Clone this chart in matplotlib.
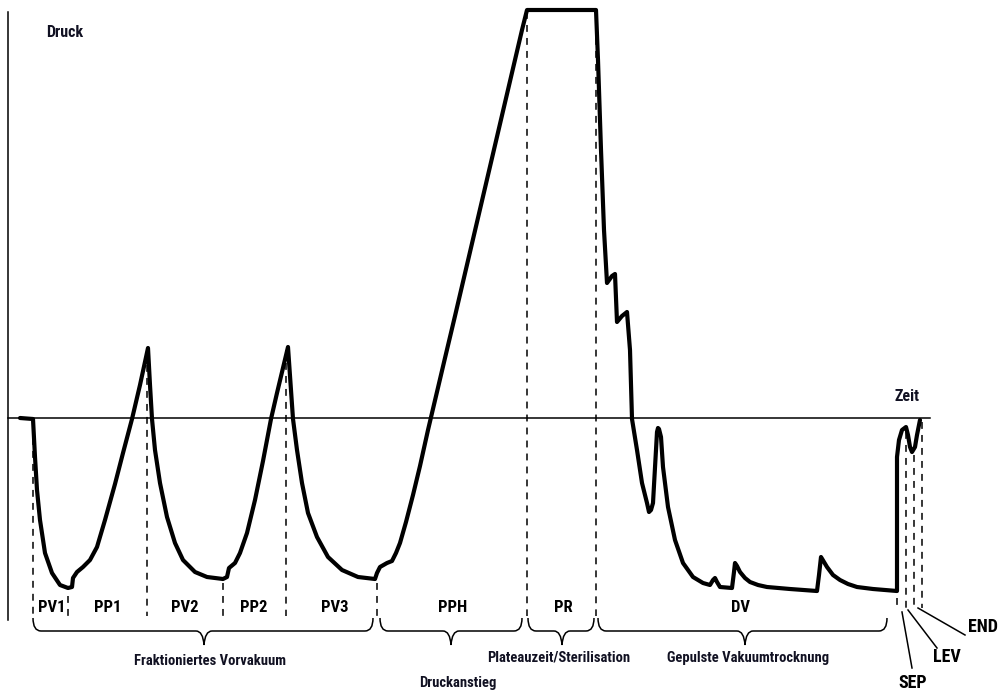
import matplotlib
matplotlib.use("Agg")
import matplotlib.pyplot as plt
from matplotlib.path import Path
from matplotlib.patches import PathPatch

FONTS = ['Roboto Condensed', 'Liberation Sans Narrow', 'Roboto', 'DejaVu Sans']
plt.rcParams['font.family'] = FONTS

# pressure curve (time, pressure), pressure 0 = time axis
t = [20, 33, 35, 37, 40, 45, 52, 60, 68, 72, 73, 77, 83, 90, 97, 105, 115, 123, 132, 140, 148,
     150, 152, 155, 160, 167, 175, 183, 195, 207, 223, 227, 229, 235, 240, 247, 255, 263, 271,
     277, 282, 288,
     291, 293, 297, 302, 308, 317, 328, 342, 358, 375, 377, 380, 387, 392, 396, 400, 406, 413,
     420, 428, 436, 445, 455, 466, 478, 490, 503, 512, 517, 522, 527,
     596, 598, 601, 604, 607, 612, 615, 617, 622, 627, 630, 632, 637, 642, 647, 649, 651, 653,
     655, 657, 658, 659, 661, 663, 668, 675, 683, 693, 703, 710, 713, 715, 717, 720, 732, 734,
     735, 737, 740, 745, 750, 758, 767, 790, 817, 819, 821, 824, 827, 833, 840, 848, 857, 873,
     897, 897, 899, 902, 906, 908, 910, 912, 915, 917, 920]
p = [0, -1, -39, -72, -102, -135, -155, -167, -170, -169, -160, -154, -149, -142, -129, -102,
     -66, -35, -1, 33, 70,
     33, -1, -32, -65, -99, -125, -142, -154, -159, -161, -159, -150, -145, -135, -115, -82, -43,
     -1, 25, 46, 71,
     28, -1, -32, -65, -95, -119, -139, -152, -159, -161, -155, -149, -145, -143, -135, -125,
     -104, -77, -48, -12, 22, 60, 102, 149, 200, 252, 307, 346, 367, 388, 408,
     408, 358, 268, 188, 135, 142, 144, 96, 102, 106, 68, -1, -32, -65, -85, -94, -92, -85,
     -49, -14, -10, -11, -19, -49, -89, -122, -145, -159, -165, -167, -162, -160, -164, -169,
     -170, -154, -145, -148, -154, -160, -164, -167, -169, -171, -173, -157, -139, -144, -149,
     -157, -162, -166, -169, -171, -173,
     -39, -22, -12, -9, -17, -29, -34, -29, -17, -2]

# phase boundaries (time, top of dashed line)
bound_t = [33, 68, 147, 223, 286, 377, 527, 596]
bound_top = [-7, -178, 66, -165, 68, -165, 406, 406]
small_t = [897, 906, 914, 922]
small_top = [-180, -14, -37, -4]

phases = ["PV1", "PP1", "PV2", "PP2", "PV3", "PPH", "PR", "DV"]
phase_x = [52, 108, 185, 254, 335, 453, 563, 740]

groups = ["Fraktioniertes Vorvakuum", "Druckanstieg", "Plateauzeit/Sterilisation",
          "Gepulste Vakuumtrocknung"]
group_span = [(33, 373), (380, 522), (528, 594), (598, 887)]
group_tip = [204, 451, 562, 745]
group_label = [(210, -243), (458, -265), (559, -239), (748, -240)]

ends = ["SEP", "LEV", "END"]
end_line = [((902, -194), (912, -250)), ((908, -192), (937, -230)), ((918, -190), (965, -217))]
end_label = [(913, -265), (947, -239), (983, -209)]


def brace(ax, x0, x1, xm, ytop=-200, ybar=-213, ytip=-227, r=8):
    verts = [(x0, ytop), (x0, ybar), (x0 + r, ybar),
             (xm - r, ybar), (xm - 1, ybar), (xm, ytip),
             (xm + 1, ybar), (xm + r, ybar),
             (x1 - r, ybar), (x1, ybar), (x1, ytop)]
    codes = [Path.MOVETO, Path.CURVE3, Path.CURVE3,
             Path.LINETO, Path.CURVE3, Path.CURVE3,
             Path.CURVE3, Path.CURVE3,
             Path.LINETO, Path.CURVE3, Path.CURVE3]
    ax.add_patch(PathPatch(Path(verts, codes), fill=False, lw=1.1, ec="black"))


fig = plt.figure(figsize=(10, 6.91), dpi=100)
ax = fig.add_axes([0, 0, 1, 1])
ax.set_xlim(0, 1000)
ax.set_ylim(-273, 418)
ax.axis("off")

# axes
ax.plot([8, 8], [406, -202], color="black", lw=1.1)
ax.plot([8, 930], [0, 0], color="black", lw=1.1)

for x, top in zip(bound_t, bound_top):
    ax.plot([x, x], [top, -198], color="black", lw=1.1, ls=(0, (4.5, 4)))
for x, top in zip(small_t, small_top):
    ax.plot([x, x], [top, -190], color="black", lw=1.1, ls=(0, (4.5, 4)))

ax.plot(t, p, color="black", lw=3, solid_joinstyle="round", solid_capstyle="round")

for name, x in zip(phases, phase_x):
    ax.text(x, -189, name, ha="center", va="center", fontsize=12, fontweight="bold")

for name, (x0, x1), xm, (lx, ly) in zip(groups, group_span, group_tip, group_label):
    brace(ax, x0, x1, xm)
    ax.text(lx, ly, name, ha="center", va="center", fontsize=10.5, fontweight="bold",
            color="#111122")

for name, (a, b), (lx, ly) in zip(ends, end_line, end_label):
    ax.plot([a[0], b[0]], [a[1], b[1]], color="black", lw=1.1)
    ax.text(lx, ly, name, ha="center", va="center", fontsize=13, fontweight="bold")

ax.text(65, 386, "Druck", ha="center", va="center", fontsize=11.5, fontweight="bold",
        color="#111122")
ax.text(907, 22, "Zeit", ha="center", va="center", fontsize=11.5, fontweight="bold",
        color="#111122")

fig.savefig("out.png", dpi=100)
